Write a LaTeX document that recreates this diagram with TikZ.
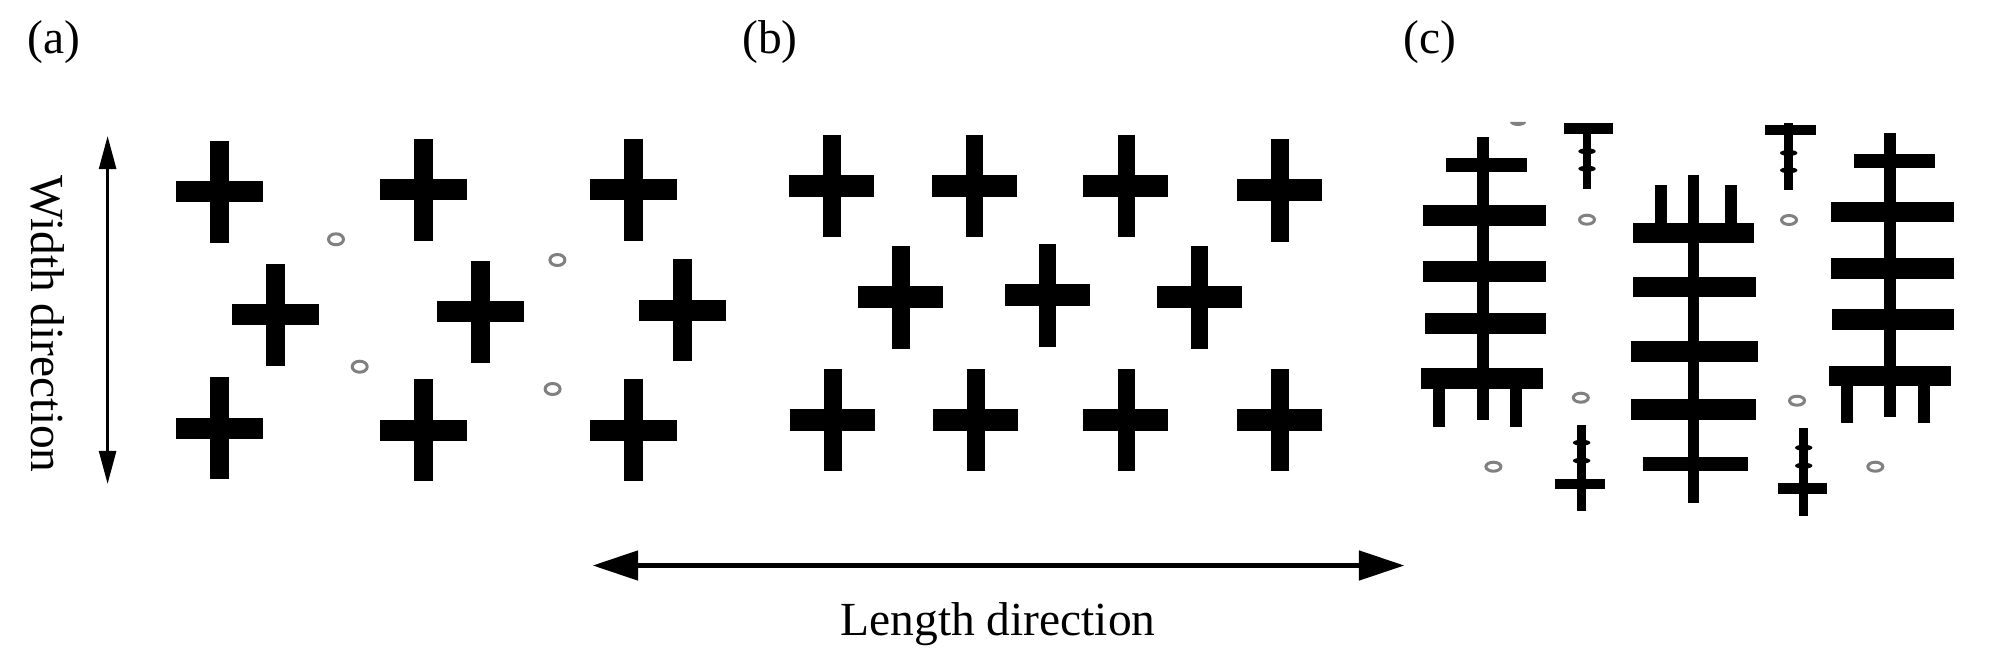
\documentclass[tikz,border=0pt]{standalone}
\usepackage{fontspec}
\setmainfont{Liberation Serif}
\usepackage{tikz}
\usetikzlibrary{arrows.meta}
\tikzset{
    bar/.style={fill=black, draw=none},
    ring/.style={draw=gray, line width=0.85pt, fill=white},
    label/.style={font=\fontsize{13.5}{16}\selectfont, inner sep=0pt},
}

\begin{document}
\begin{tikzpicture}[x=0.01cm, y=-0.01cm]
    \useasboundingbox (0,0) rectangle (2000,658);

    % panel labels
    \node[label] (LA) at (54,42) {(a)};
    \node[label] (LB) at (770,42) {(b)};
    \node[label] (LC) at (1430,42) {(c)};

    % arrows
    \coordinate (WT) at (107.6,136);
    \coordinate (WB) at (107.6,484);
    \draw[line width=0.85pt, {Triangle[length=9.4pt,width=4.8pt]}-{Triangle[length=9.4pt,width=4.8pt]}] (WT) -- (WB);
    \node[label, rotate=-90] (WL) at (48,324) {Width direction};

    \coordinate (LL) at (592.5,565.5);
    \coordinate (LR) at (1404.5,565.5);
    \draw[line width=1.6pt, {Triangle[length=13pt,width=8.2pt]}-{Triangle[length=13pt,width=8.2pt]}] (LL) -- (LR);
    \node[label] (LT) at (998,624) {Length direction};

    % crosses in (a)
    \foreach \x/\y in {219.6/192, 423.7/190, 633/190, 275.3/315, 480/312, 682.5/310.5, 219.6/428.5, 423.7/430.5, 633/430.5} {
        \fill[bar] (\x-9.5,\y-51) rectangle (\x+9.5,\y+51);
        \fill[bar] (\x-43.5,\y-10.5) rectangle (\x+43.5,\y+10.5);
    }

    % crosses in (b)
    \foreach \x/\y in {832/186, 974.6/186, 1126.4/186, 1280/190.5, 901/297.5, 1047.7/295.5, 1199.5/297.5, 833/420, 976/420, 1126.4/420, 1280/420} {
        \fill[bar] (\x-8.7,\y-51.3) rectangle (\x+8.7,\y+51.3);
        \fill[bar] (\x-43,\y-11) rectangle (\x+42,\y+11);
    }

    % left tree in (c)
    \fill[bar] (1476.8,137.3) rectangle (1488.8,420);
    \fill[bar] (1433.4,380) rectangle (1445.2,426.7);
    \fill[bar] (1510.4,380) rectangle (1522.3,426.7);
    \foreach \l/\r/\t/\b in {1446.4/1527/158/171.7, 1422.7/1546.4/205/225.7, 1422.7/1546.4/261/281.7, 1424.7/1546.4/313.3/334, 1421/1543/368.3/389} {
        \fill[bar] (\l,\t) rectangle (\r,\b);
    }

    % middle tree in (c)
    \fill[bar] (1687.5,175) rectangle (1699.4,503.3);
    \fill[bar] (1655,185) rectangle (1667,230);
    \fill[bar] (1724.7,185) rectangle (1736.5,230);
    \foreach \l/\r/\t/\b in {1633/1754.3/222.7/242.7, 1633/1756.3/276.7/297.3, 1631.4/1757.9/340.7/361.7, 1631.4/1756.3/399.3/420, 1643/1747.6/456.7/470.7} {
        \fill[bar] (\l,\t) rectangle (\r,\b);
    }

    % right tree in (c)
    \fill[bar] (1884.3,133.3) rectangle (1896.3,416.7);
    \fill[bar] (1841,380) rectangle (1852.7,422.7);
    \fill[bar] (1918.3,380) rectangle (1930.2,422.7);
    \foreach \l/\r/\t/\b in {1854.3/1934.5/154/168, 1830.6/1953.5/201.7/222.3, 1830.6/1953.5/258.3/279, 1832/1953.5/309.3/330, 1829/1951/366/386} {
        \fill[bar] (\l,\t) rectangle (\r,\b);
    }

    % small stems in (c)
    \foreach \x/\t/\b/\kone/\ktwo/\l/\r/\bt/\bb in {1587/123/189.3/151.3/168.7/1563.8/1613.2/123.3/134, 1788.7/122.7/190/153/170.3/1765.4/1815.6/125.3/135.3, 1581.6/425/511/442.7/460.7/1554.7/1605.3/479.3/488.7, 1803.7/428.3/516/447.7/465.7/1778/1826.6/483.3/494} {
        \fill[bar] (\x-4.3,\t) rectangle (\x+4.3,\b);
        \fill[bar] (\l,\bt) rectangle (\r,\bb);
        \fill[bar] (\x,\kone) ellipse [x radius=8.7, y radius=3];
        \fill[bar] (\x,\ktwo) ellipse [x radius=8.7, y radius=3];
    }

    % rings
    \foreach \x/\y in {336/239.3, 557.4/260, 359.7/366.7, 552.6/389} {
        \draw[ring] (\x,\y) ellipse [x radius=7.5, y radius=5.5];
    }
    \foreach \x/\y in {1587/219.7, 1789/220, 1580.8/397.7, 1797/400.7, 1493.4/466.7, 1875.3/466.7} {
        \draw[ring] (\x,\y) ellipse [x radius=7.5, y radius=4.5];
    }
    \fill[gray] (1510,122) arc [start angle=180, end angle=0, x radius=8, y radius=4] -- cycle;
\end{tikzpicture}
\end{document}
